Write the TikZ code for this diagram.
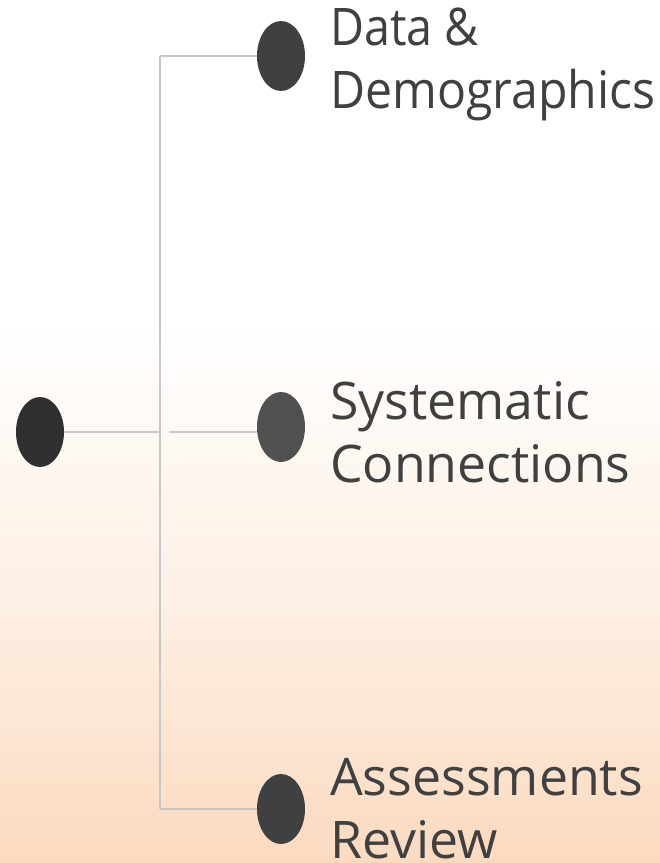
\documentclass[tikz,border=0pt]{standalone}
\usepackage{fontspec}
\setmainfont{Open Sans}
\newfontfamily\fnarrowA[FakeStretch=0.90]{Open Sans}
\newfontfamily\fnarrowB[FakeStretch=0.93]{Open Sans}
\usetikzlibrary{shapes.geometric}
\definecolor{peachA}{HTML}{FDF0E4}
\definecolor{peachB}{HTML}{FBDAC0}
\definecolor{linegray}{HTML}{C8C8C8}
\definecolor{txtgray}{HTML}{404040}
\definecolor{dotA}{HTML}{2F2F2F}
\definecolor{dotB}{HTML}{404040}
\definecolor{dotC}{HTML}{505050}
\begin{document}
\begin{tikzpicture}[x=1pt,y=-1pt,
  dot/.style={ellipse, minimum width=48pt, minimum height=70pt, inner sep=0pt},
  conn/.style={draw=linegray, line width=2pt},
  lbl/.style={anchor=north west, inner sep=0pt, align=left, text=txtgray,
    font=\fontsize{51.8}{63}\selectfont}]
\useasboundingbox (0,0) rectangle (660,863);
\fill[white] (0,0) rectangle (660,320);
\shade[top color=white, bottom color=peachA] (0,320) rectangle (660,600);
\shade[top color=peachA, bottom color=peachB] (0,600) rectangle (660,863.5);
% nodes
\node[dot, fill=dotA] (root) at (40,432) {};
\node[dot, fill=dotB] (top) at (281,56) {};
\node[dot, fill=dotC] (mid) at (281,427) {};
\node[dot, fill=dotB] (bot) at (281,809) {};
\coordinate (j) at (160,432);
\coordinate (jt) at (160,56);
\coordinate (jb) at (160,809);
\coordinate (ms) at (169,432);
% connectors
\draw[conn] (root.east) -- (j);
\draw[conn] (jt) -- (jb);
\draw[conn] (jt) -- (top.west);
\draw[conn] (jb) -- (bot.west);
\draw[conn] (ms) -- (mid.west |- ms);
% labels
\node[lbl] (ltop) at (330,8) {{\fnarrowA Data \&}\\{\fnarrowB Demographics}};
\node[lbl] (lmid) at (330,381) {Systematic\\Connections};
\node[lbl] (lbot) at (330,758) {Assessments\\Review};
\end{tikzpicture}
\end{document}
